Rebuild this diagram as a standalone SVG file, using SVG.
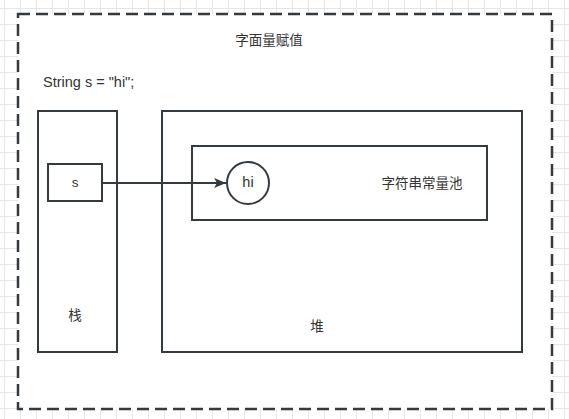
<svg xmlns="http://www.w3.org/2000/svg" width="569" height="419" viewBox="0 0 569 419">
  <defs>
    <pattern id="grid" x="4" y="8" width="16" height="16" patternUnits="userSpaceOnUse">
      <path d="M0 0.5H16M0.5 0V16" fill="none" stroke="#e6e6e6" stroke-width="1"/>
    </pattern>
    <marker id="arrow" viewBox="0 0 12 10" refX="12" refY="5" markerWidth="12" markerHeight="10" markerUnits="userSpaceOnUse" orient="auto">
      <path d="M0 0L12 5L0 10L3 5Z" fill="#333a40"/>
    </marker>
  </defs>
  <style>
    .box { fill: #ffffff; stroke: #333a40; stroke-width: 2; }
    .lbl { font-family: "Liberation Sans", "Noto Sans CJK SC", sans-serif; font-size: 13.5px; fill: #333333; text-anchor: middle; dominant-baseline: central; }
    .edge { fill: none; stroke: #333a40; stroke-width: 2; }
  </style>
  <rect width="569" height="419" fill="#ffffff"/>
  <rect width="569" height="419" fill="url(#grid)"/>

  <g id="frame">
    <rect x="18" y="14" width="534" height="395" fill="#ffffff" stroke="#333a40" stroke-width="2.5" stroke-dasharray="12 6"/>
  </g>
  <g id="title">
    <text class="lbl" x="269" y="40">字面量赋值</text>
  </g>
  <g id="code">
    <text class="lbl" x="43" y="82" style="text-anchor:start;font-size:14.5px">String s = "hi";</text>
  </g>
  <g id="stack">
    <rect class="box" x="38" y="111" width="79" height="241"/>
    <text class="lbl" x="75" y="315">栈</text>
  </g>
  <g id="heap">
    <rect class="box" x="162" y="111" width="360" height="241"/>
    <text class="lbl" x="317" y="326">堆</text>
  </g>
  <g id="pool">
    <rect class="box" x="192" y="146" width="295" height="74"/>
    <text class="lbl" x="422" y="183">字符串常量池</text>
  </g>
  <g id="var-s">
    <rect class="box" x="48" y="164" width="54" height="37"/>
    <text class="lbl" x="75" y="182">s</text>
  </g>
  <g id="str-hi">
    <circle class="box" cx="248" cy="183" r="21"/>
    <text class="lbl" x="248" y="182" style="font-size:14.5px">hi</text>
  </g>
  <g id="connectors">
    <path class="edge" d="M102 183H226" marker-end="url(#arrow)"/>
  </g>
</svg>
